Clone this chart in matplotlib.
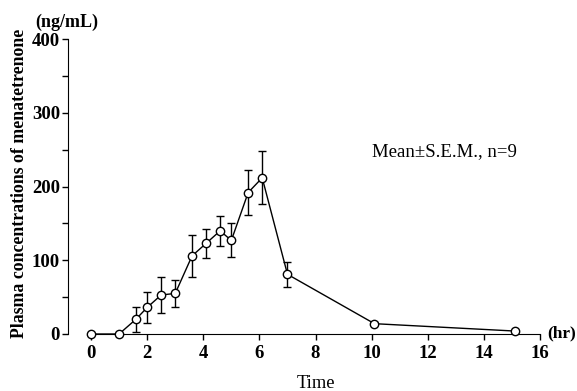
import matplotlib.pyplot as plt
from matplotlib.ticker import MultipleLocator

plt.rcParams['font.family'] = ['Liberation Serif', 'DejaVu Serif']

time_hr = [0, 1, 1.6, 2, 2.5, 3, 3.6, 4.1, 4.6, 5, 5.6, 6.1, 7, 10.1, 15.1]
conc = [0, 0, 20, 36, 53, 55, 106, 123, 140, 127, 192, 212, 81, 14, 4]
sem = [0, 0, 17, 21, 24, 18, 29, 20, 20, 23, 30, 36, 17, 2, 1]

fig = plt.figure(figsize=(5.77, 3.91), dpi=100)
ax = fig.add_axes([0.1179, 0.1458, 0.8180, 0.7537])

ax.errorbar(time_hr, conc, yerr=sem, color='black', linewidth=1.0,
            elinewidth=1.0, capsize=3, capthick=1.0,
            marker='o', markersize=6, markerfacecolor='white',
            markeredgecolor='black', markeredgewidth=1.0, clip_on=False, zorder=3)

ax.set_xlim(-0.82, 16)
ax.set_ylim(0, 400)
ax.spines['top'].set_visible(False)
ax.spines['right'].set_visible(False)
ax.spines['bottom'].set_bounds(0, 16)
ax.set_xticks(range(0, 17, 2))
ax.set_yticks([0, 100, 200, 300, 400])
ax.yaxis.set_minor_locator(MultipleLocator(50))
ax.tick_params(axis='both', which='both', direction='out', length=4.3, width=1,
               labelsize=13.5)
ax.tick_params(axis='y', which='both', pad=1.5)
for lab in ax.get_xticklabels() + ax.get_yticklabels():
    lab.set_fontweight('bold')

fig.text(0.033, 0.532, 'Plasma concentrations of menatetrenone', fontsize=12.8,
         fontweight='bold', rotation=90, ha='center', va='center')
fig.text(0.547, 0.019, 'Time', fontsize=13.3, ha='center', va='center')
fig.text(0.116, 0.944, '(ng/mL)', fontsize=13, fontweight='bold',
         ha='center', va='center')
fig.text(0.948, 0.148, '(hr)', fontsize=12.5, fontweight='bold',
         ha='left', va='center')
ax.text(12.6, 247, 'Mean±S.E.M., n=9', fontsize=13.5, ha='center', va='center')

fig.savefig('out.png', dpi=100)
